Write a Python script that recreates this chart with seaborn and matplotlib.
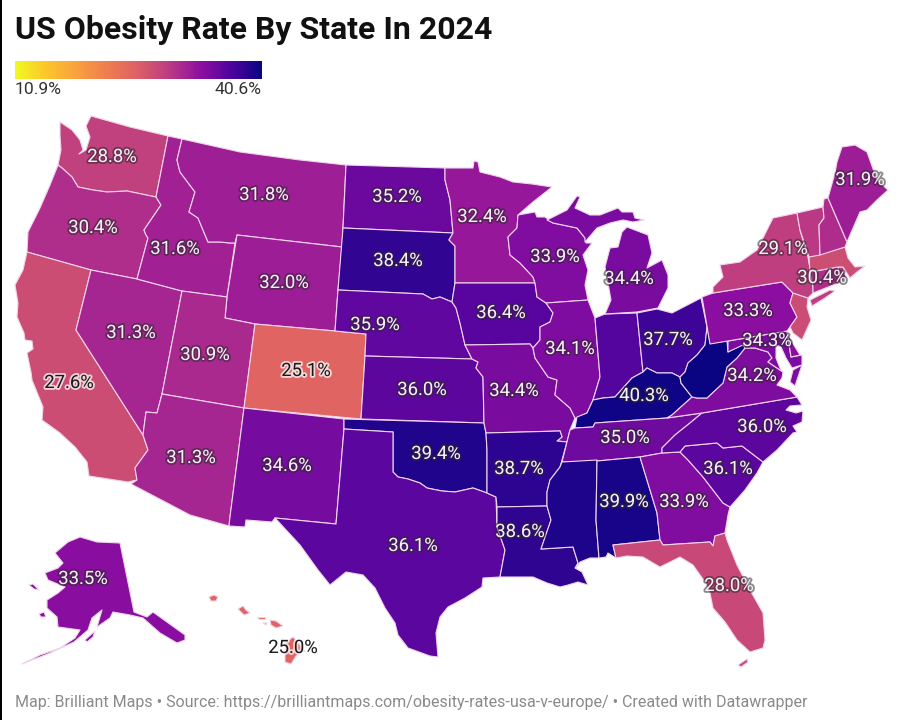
import numpy as np
import seaborn as sns
import matplotlib.pyplot as plt
import matplotlib.patheffects as pe
from matplotlib.collections import PolyCollection
from matplotlib.colors import Normalize

# state outlines in image pixels
WA = [(60,122),(72,130),(80,140),(83,150),(79,154),(86,150),(90,137),(86,126),(91,116),(130,127),(168,136),(156,197),(127,191),(107,192),(93,190),(78,187),(72,177),(62,168),(58,165),(61,150),(60,135)]
OR_ = [(58,165),(62,168),(72,177),(78,187),(93,190),(107,192),(127,191),(156,197),(161,205),(144,230),(146,235),(148,238),(137,279),(91,270),(27,252),(28,232),(40,208),(50,185)]
CA = [(27,252),(91,270),(76,330),(143,435),(148,450),(135,468),(137,480),(128,482),(89,476),(87,462),(75,447),(60,433),(42,420),(43,407),(32,380),(31,372),(27,353),(33,349),(32,341),(25,340),(24,333),(17,317),(18,303),(15,285),(23,270)]
NV = [(91,270),(137,279),(182,291),(162,394),(157,413),(146,412),(143,435),(76,330)]
ID = [(168,136),(182,139),(177,160),(180,172),(195,192),(189,212),(198,218),(208,242),(220,242),(230,243),(235,243),(227,297),(182,291),(137,279),(148,238),(146,235),(144,230),(161,205),(156,197)]
MT = [(182,139),(240,152),(300,160),(346,165),(343,228),(342,247),(237,235),(235,243),(230,243),(220,242),(208,242),(198,218),(189,212),(195,192),(180,172),(177,160)]
WY = [(237,235),(342,247),(338,290),(335,331),(255,324),(225,318),(227,297)]
UT = [(182,291),(227,297),(225,318),(255,324),(244,408),(162,394)]
AZ = [(162,394),(244,408),(230,517),(229,526),(190,515),(131,484),(137,480),(135,468),(148,450),(143,435),(146,412),(157,413)]
CO = [(255,324),(335,331),(366,334),(365,356),(361,419),(244,408)]
NM = [(244,408),(344,419),(344,429),(336,524),(275,518),(272,522),(246,520),(245,527),(229,526),(230,517)]
ND = [(346,165),(445,168),(445,180),(450,200),(453,233),(343,228)]
SD = [(343,228),(453,233),(449,240),(455,246),(455,283),(452,302),(440,297),(432,299),(423,294),(338,290)]
NE = [(338,290),(423,294),(432,299),(440,297),(452,302),(456,308),(460,323),(465,345),(472,359),(365,356),(366,334),(335,331)]
KS = [(365,356),(472,359),(478,362),(476,368),(483,377),(484,423),(361,419)]
OK = [(344,419),(484,423),(486,433),(487,450),(487,493),(473,488),(455,492),(442,491),(427,488),(420,483),(408,479),(398,477),(393,472),(393,432),(344,429)]
TX = [(344,429),(393,432),(393,472),(398,477),(408,479),(420,483),(427,488),(442,491),(455,492),(473,488),(487,493),(496,497),(497,527),(505,550),(500,577),(483,578),(482,587),(465,598),(448,607),(440,617),(436,633),(438,657),(430,656),(408,648),(398,635),(395,623),(385,608),(375,588),(363,575),(346,572),(330,585),(318,570),(300,545),(275,518),(336,524)]
MN = [(445,168),(473,168),(474,161),(478,162),(480,172),(492,175),(500,177),(513,182),(532,184),(552,187),(533,202),(518,215),(517,228),(508,237),(510,255),(520,263),(533,277),(535,283),(455,283),(455,246),(449,240),(453,233),(450,200),(445,180)]
IA = [(455,283),(535,283),(537,297),(546,303),(553,313),(550,322),(540,327),(540,340),(533,348),(530,344),(465,345),(460,323),(456,308),(452,302)]
MO = [(465,345),(530,344),(533,348),(535,358),(548,377),(557,380),(555,395),(570,408),(575,418),(570,430),(567,442),(557,441),(562,437),(560,431),(486,433),(484,423),(483,377),(476,368),(478,362),(472,359)]
AR = [(486,433),(560,431),(562,437),(557,441),(567,442),(562,460),(560,467),(550,480),(547,492),(547,506),(497,507),(496,497),(487,493),(487,450)]
LA = [(497,507),(547,506),(551,520),(541,549),(573,547),(578,563),(575,568),(582,572),(588,585),(578,582),(568,585),(560,587),(547,583),(533,577),(517,577),(500,577),(505,550),(497,527)]
WI = [(518,215),(535,212),(537,217),(545,217),(553,223),(577,228),(585,238),(586,243),(592,243),(583,255),(588,270),(585,285),(588,300),(546,303),(537,297),(535,283),(533,277),(520,263),(510,255),(508,237),(517,228)]
IL = [(546,303),(588,300),(595,318),(600,377),(593,400),(587,413),(577,418),(575,418),(570,408),(555,395),(557,380),(548,377),(535,358),(533,348),(540,340),(540,327),(550,322),(553,313)]
IN = [(595,318),(605,314),(637,313),(643,372),(632,378),(615,397),(603,398),(593,400),(600,377)]
OH = [(637,313),(657,309),(672,313),(701,298),(707,327),(705,345),(697,355),(688,363),(685,372),(680,377),(672,373),(657,373),(647,368),(643,372)]
MI_UP = [(547,220),(567,210),(577,196),(580,197),(575,208),(590,215),(600,215),(618,208),(622,212),(633,212),(635,218),(644,220),(633,222),(623,220),(610,223),(597,228),(585,242),(585,238),(577,228),(553,223)]
MI_LOW = [(627,227),(648,235),(652,253),(647,268),(662,260),(668,275),(668,288),(658,308),(637,312),(605,314),(611,300),(608,283),(605,267),(610,248),(618,247),(622,232)]
KY = [(575,428),(577,417),(587,413),(593,400),(603,398),(615,397),(632,378),(643,372),(647,368),(657,373),(672,373),(680,377),(681,383),(692,397),(672,415),(667,418),(595,423),(593,427)]
TN = [(570,430),(575,428),(593,427),(595,423),(667,418),(702,413),(690,423),(675,435),(662,448),(662,453),(640,457),(597,461),(562,462),(567,442)]
MS = [(562,462),(597,460),(596,520),(599,558),(590,558),(580,562),(576,568),(578,563),(573,547),(541,549),(551,520),(547,506),(547,492),(550,480),(560,467)]
AL = [(597,461),(640,457),(657,513),(660,540),(613,545),(616,558),(608,553),(606,557),(599,558),(596,520)]
GA = [(640,457),(662,453),(680,452),(688,460),(703,477),(723,503),(730,507),(728,515),(725,533),(715,536),(713,546),(710,542),(663,545),(660,540),(657,513)]
FL = [(613,545),(660,540),(663,545),(710,542),(713,546),(715,536),(725,533),(727,540),(737,565),(750,590),(763,613),(765,640),(763,648),(750,652),(737,640),(725,622),(713,608),(710,593),(705,582),(693,565),(680,557),(660,567),(643,557),(627,556),(616,558)]
FL_KEYS = [(738,665),(747,659),(748,662),(741,667)]
SC = [(680,452),(685,446),(717,443),(723,448),(742,446),(763,462),(757,473),(745,490),(730,507),(723,503),(703,477),(688,460)]
NC = [(702,413),(797,397),(802,405),(790,406),(786,410),(796,413),(803,411),(802,422),(793,426),(797,432),(793,433),(777,450),(763,462),(742,446),(723,448),(717,443),(685,446),(680,452),(662,453),(662,448),(675,435),(690,423)]
VA = [(667,418),(672,415),(692,397),(697,398),(707,398),(723,383),(727,367),(737,358),(745,348),(755,348),(768,352),(772,358),(768,362),(783,372),(782,378),(777,385),(790,390),(797,397),(702,413)]
VA_SHORE = [(802,365),(795,386),(790,382),(793,370)]
WV = [(680,377),(685,372),(688,363),(697,355),(705,345),(707,327),(710,343),(727,341),(728,352),(743,343),(745,348),(737,358),(727,367),(723,383),(707,398),(697,398),(692,397),(681,383)]
MD = [(728,341),(787,331),(791,357),(802,355),(802,365),(792,368),(786,358),(781,347),(776,345),(776,358),(780,368),(783,372),(768,362),(772,358),(768,352),(755,348),(745,348),(743,345),(728,352)]
DE = [(787,331),(792,342),(800,355),(791,357)]
PA = [(713,293),(782,282),(793,293),(790,303),(797,317),(790,327),(787,331),(710,344),(702,297)]
NJ = [(793,293),(808,298),(807,307),(811,320),(802,340),(793,333),(790,327),(797,317),(790,303)]
NY = [(713,293),(782,282),(793,293),(808,298),(813,293),(813,287),(808,257),(800,230),(797,213),(773,218),(757,250),(740,262),(720,265),(723,277),(713,287)]
NY_LI = [(810,300),(830,290),(835,291),(825,298),(812,306)]
CT = [(810,272),(838,267),(841,282),(813,293),(813,287)]
RI = [(838,267),(843,267),(846,277),(841,282)]
MA = [(809,257),(845,247),(848,258),(855,267),(865,266),(857,272),(850,278),(843,267),(838,267),(810,272)]
VT = [(797,213),(823,207),(824,218),(819,225),(820,255),(809,257),(800,230)]
NH = [(824,199),(828,198),(847,242),(845,247),(820,255),(819,225),(824,218),(823,207)]
ME = [(828,198),(835,173),(837,162),(842,147),(855,145),(867,152),(877,180),(888,190),(877,200),(867,210),(860,212),(847,242)]
AK = [(80,537),(97,542),(120,543),(134,612),(147,617),(153,612),(185,635),(185,640),(177,643),(160,633),(143,618),(130,615),(113,612),(110,618),(97,627),(102,610),(92,618),(88,630),(74,642),(50,653),(22,664),(40,655),(60,648),(75,638),(80,630),(58,627),(57,617),(47,608),(47,600),(58,593),(65,587),(48,580),(45,573),(58,568),(63,563),(55,553),(68,542)]
AK_KODIAK = [(85,640),(95,631),(93,637),(87,642)]
AK_LAWRENCE = [(29,585),(33,584),(39,590),(34,589)]
AK_NUNIVAK = [(39,614),(44,612),(46,617),(41,617)]
HI_KAUAI = [(209,597),(214,595),(218,597),(216,601),(211,601)]
HI_OAHU = [(238,609),(243,606),(246,610),(250,613),(244,615)]
HI_MOLOKAI = [(257,617),(265,617),(265,619),(259,619)]
HI_LANAI = [(263,623),(267,623),(266,625)]
HI_MAUI = [(270,620),(276,621),(283,626),(276,628),(271,625)]
HI_BIG = [(285,643),(293,637),(297,641),(305,651),(296,656),(291,664),(285,662)]

# state, rate and outline, same order
states = ['WA', 'OR', 'CA', 'NV', 'ID', 'MT', 'WY', 'UT', 'AZ', 'CO', 'NM', 'ND', 'SD', 'NE', 'KS', 'OK', 'TX', 'MN', 'IA', 'MO', 'AR', 'LA', 'WI', 'IL', 'IN', 'OH', 'MI', 'KY', 'TN', 'MS', 'AL', 'GA', 'FL', 'SC', 'NC', 'VA', 'WV', 'MD', 'DE', 'PA', 'NJ', 'NY', 'CT', 'RI', 'MA', 'VT', 'NH', 'ME', 'AK', 'HI']
rates = [28.8, 30.4, 27.6, 31.3, 31.6, 31.8, 32.0, 30.9, 31.3, 25.1, 34.6, 35.2, 38.4, 35.9, 36.0, 39.4, 36.1, 32.4, 36.4, 34.4, 38.7, 38.6, 33.9, 34.1, 36.6, 37.7, 34.4, 40.3, 35.0, 39.5, 39.9, 33.9, 28.0, 36.1, 36.0, 34.2, 40.6, 34.3, 33.5, 33.3, 27.7, 29.1, 30.4, 30.0, 27.4, 29.5, 30.6, 31.9, 33.5, 25.0]
shapes = [[WA], [OR_], [CA], [NV], [ID], [MT], [WY], [UT], [AZ], [CO], [NM], [ND], [SD], [NE], [KS], [OK], [TX], [MN], [IA], [MO], [AR], [LA], [WI], [IL], [IN], [OH], [MI_UP, MI_LOW], [KY], [TN], [MS], [AL], [GA], [FL, FL_KEYS], [SC], [NC], [VA, VA_SHORE], [WV], [MD], [DE], [PA], [NJ], [NY, NY_LI], [CT], [RI], [MA], [VT], [NH], [ME], [AK, AK_KODIAK, AK_LAWRENCE, AK_NUNIVAK], [HI_KAUAI, HI_OAHU, HI_MOLOKAI, HI_LANAI, HI_MAUI, HI_BIG]]

label_states = ['WA', 'OR', 'CA', 'NV', 'ID', 'MT', 'WY', 'UT', 'AZ', 'CO', 'NM', 'ND', 'SD', 'NE', 'KS', 'OK', 'TX', 'MN', 'IA', 'MO', 'AR', 'LA', 'WI', 'IL', 'OH', 'MI', 'KY', 'TN', 'AL', 'GA', 'FL', 'SC', 'NC', 'VA', 'MD', 'PA', 'NY', 'CT', 'ME', 'AK', 'HI']
label_x = [112, 93, 69, 131, 175, 264, 284, 205, 191, 306, 287, 397, 398, 375, 422, 436, 413, 482, 501, 514, 519, 520, 555, 570, 668, 629, 644, 625, 624, 684, 729, 728, 762, 752, 767, 748, 783, 822, 860, 83, 293]
label_y = [157, 228, 383, 333, 249, 195, 283, 355, 458, 371, 466, 197, 261, 325, 390, 454, 546, 217, 313, 391, 469, 532, 257, 349, 340, 279, 396, 438, 502, 502, 586, 469, 427, 376, 341, 311, 249, 278, 180, 579, 648]

scale_min = 10.9
scale_max = 40.6
scale_colors = ['#f0f921', '#fdc52b', '#f9a03f', '#ee7c50', '#dc5f66', '#bc3a83', '#8e0fa0', '#4f049e', '#0a0483']

sns.set_theme(style='white')
plt.rcParams['font.family'] = ['Roboto', 'DejaVu Sans']

cmap = sns.blend_palette(scale_colors, as_cmap=True)
norm = Normalize(scale_min, scale_max)

fig = plt.figure(figsize=(9.04, 7.2), dpi=100)
ax = fig.add_axes([0, 0, 1, 1])

verts = []
vals = []
for parts, r in zip(shapes, rates):
    for p in parts:
        verts.append(p)
        vals.append(r)
states_pc = PolyCollection(verts, array=np.array(vals), cmap=cmap, norm=norm,
                           edgecolors='#f0d4ea', linewidths=0.8, joinstyle='round')
ax.add_collection(states_pc)
ax.set_xlim(0, 904)
ax.set_ylim(720, 0)
ax.axis('off')

rate_of = dict(zip(states, rates))
for s, x, y in zip(label_states, label_x, label_y):
    r = rate_of[s]
    if s in ('CA', 'CO', 'HI'):
        col, halo, a = '#1a1a1a', '#ffffff', 0.75
    else:
        col, halo, a = '#f9eef9', '#2a2a2a', 0.55
    ax.text(x, y, f'{r:.1f}%', color=col, fontsize=13.3, ha='center', va='center',
            path_effects=[pe.withStroke(linewidth=2.6, foreground=halo, alpha=a)])

# title, gradient legend and footer
ax.text(15, 30, 'US Obesity Rate By State In 2024', fontsize=23, fontweight='bold',
        color='#111111', ha='left', va='center')
cax = fig.add_axes([15/904, 1 - 79/720, 247/904, 18/720])
sns.heatmap(np.linspace(scale_min, scale_max, 256).reshape(1, -1), ax=cax, cmap=cmap, norm=norm,
            cbar=False, xticklabels=False, yticklabels=False)
ax.text(15, 90, f'{scale_min}%', fontsize=12.6, color='#333333', ha='left', va='center')
ax.text(262, 90, f'{scale_max}%', fontsize=12.6, color='#333333', ha='right', va='center')
ax.text(15, 703, 'Map: Brilliant Maps • Source: https://brilliantmaps.com/obesity-rates-usa-v-europe/ • Created with Datawrapper',
        fontsize=11.55, color='#8a8a8a', ha='left', va='center')

# dark edges of the original screenshot
ax.axvspan(0, 2, color='black', lw=0)
ax.axvspan(903, 904, color='black', lw=0)

fig.savefig('out.png', dpi=100)
